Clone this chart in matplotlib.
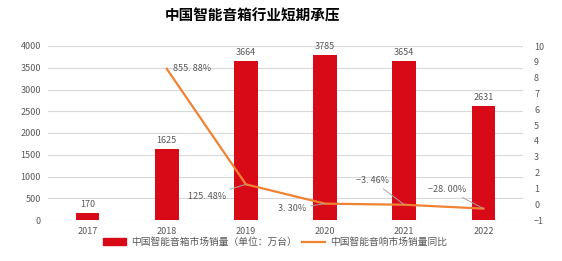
import matplotlib.pyplot as plt

plt.rcParams['font.family'] = ['Noto Sans CJK SC', 'DejaVu Sans']

years = ['2017', '2018', '2019', '2020', '2021', '2022']
sales = [170, 1625, 3664, 3785, 3654, 2631]
growth = [None, 8.5588, 1.2548, 0.0330, -0.0346, -0.2800]
growth_labels = ['', '855. 88%', '125. 48%', '3. 30%', '−3. 46%', '−28. 00%']
# label offsets in pixels (dx, dy) relative to the point
label_offsets = [None, (6, 0), (-58, -12), (-47, -5), (-48, 24), (-55, 19)]

bar_color = '#D90A17'
line_color = '#F08232'
grid_color = '#D9D9D9'
text_color = '#595959'

fig = plt.figure(figsize=(5.62, 2.61), dpi=100)
ax = fig.add_axes([48 / 562, 1 - 220 / 261, 475 / 562, 174 / 261])
x = list(range(len(years)))

ax.bar(x, sales, width=0.3, color=bar_color, zorder=2)
for xi, v in zip(x, sales):
    ax.text(xi, v + 90, str(v), ha='center', va='bottom', fontsize=6.5, color=text_color)

ax.set_xlim(-0.5, len(years) - 0.5)
ax.set_ylim(0, 4000)
ax.set_yticks(range(0, 4001, 500))
ax.set_xticks(x)
ax.set_xticklabels(years)
ax.grid(axis='y', color=grid_color, linewidth=0.8, zorder=0)
ax.tick_params(length=0, labelsize=6.5, labelcolor=text_color, pad=5)
for s in ax.spines.values():
    s.set_visible(False)

ax2 = ax.twinx()
gx = [xi for xi, g in zip(x, growth) if g is not None]
gy = [g for g in growth if g is not None]
ax2.plot(gx, gy, color=line_color, linewidth=1.6, zorder=3)
ax2.set_ylim(-1, 10)
ax2.set_yticks(range(-1, 11))
ax2.set_yticklabels(['−1'] + [str(i) for i in range(0, 11)])
ax2.tick_params(length=0, labelsize=6.5, labelcolor=text_color, pad=8)
for s in ax2.spines.values():
    s.set_visible(False)

for xi, g, lab, off in zip(x, growth, growth_labels, label_offsets):
    if g is None:
        continue
    dx, dy = off
    if xi == 1:
        ax2.annotate(lab, (xi, g), xytext=(dx * 0.72, dy * 0.72), textcoords='offset points',
                     fontsize=6.5, color=text_color, va='center', ha='left')
    else:
        ax2.annotate(lab, (xi, g), xytext=(dx * 0.72, dy * 0.72), textcoords='offset points',
                     fontsize=6.5, color=text_color, va='center', ha='left',
                     arrowprops=dict(arrowstyle='-', color='#A6A6A6', lw=0.7,
                                     shrinkA=1, shrinkB=0))

fig.text(253 / 562, 1 - 16 / 261, '中国智能音箱行业短期承压', ha='center', va='center',
         fontsize=10.5, fontweight='bold', color='#000000')

h1 = plt.Rectangle((0, 0), 1, 1, color=bar_color)
h2 = plt.Line2D([], [], color=line_color, linewidth=1.6)
fig.legend([h1, h2], ['中国智能音箱市场销量（单位：万台）', '中国智能音响市场销量同比'],
           loc='center', bbox_to_anchor=(275 / 562, 1 - 242 / 261), ncol=2, frameon=False,
           fontsize=7, labelcolor=text_color, handlelength=2.4, handleheight=0.6,
           columnspacing=0.5, handletextpad=0.5)

fig.savefig('out.png', dpi=100)
